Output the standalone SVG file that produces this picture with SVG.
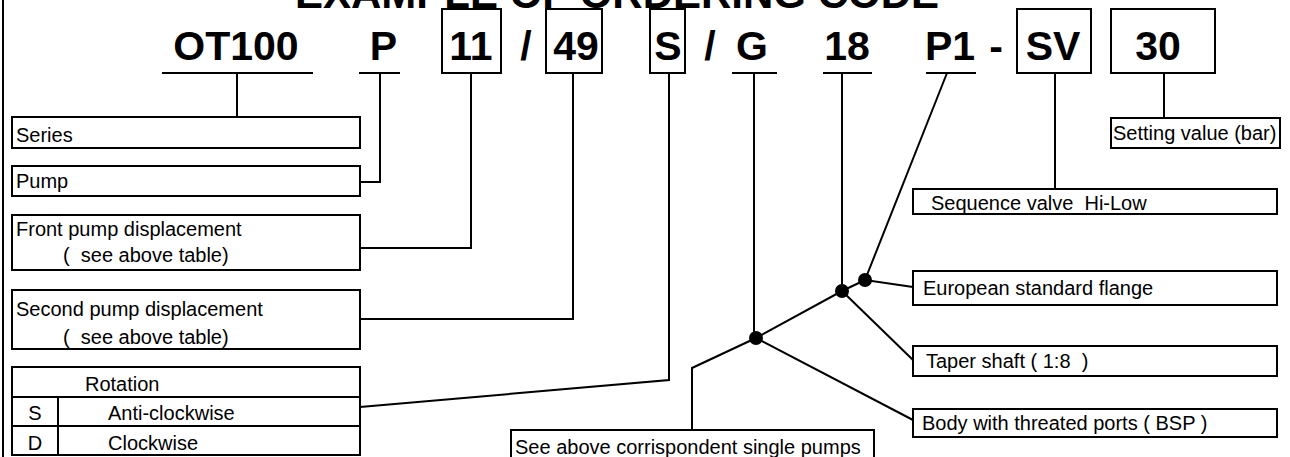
<svg xmlns="http://www.w3.org/2000/svg" width="1290" height="457" viewBox="0 0 1290 457">
<style>
.bx{fill:#fff;stroke:#000;stroke-width:2}
.ln{fill:none;stroke:#000;stroke-width:2}
.code{font-family:"Liberation Sans",Arial,sans-serif;font-weight:bold;font-size:41px;text-anchor:middle;fill:#000}
.t{font-family:"Liberation Sans",Arial,sans-serif;font-size:20px;fill:#000;white-space:pre}
.title{font-family:"Liberation Sans",Arial,sans-serif;font-weight:bold;font-size:42px;text-anchor:middle;fill:#000}
.dot{fill:#000}
</style>
<rect width="1290" height="457" fill="#fff"/>
<line x1="3" y1="0" x2="3" y2="457" class="ln"/>
<text class="title" x="617" y="8">EXAMPLE OF ORDERING CODE</text>

<g id="code">
<text class="code" x="236" y="60">OT100</text>
<text class="code" x="383.5" y="60">P</text>
<rect class="bx" x="442" y="9" width="59" height="64"/>
<text class="code" x="471" y="60">11</text>
<text class="code" x="526" y="60">/</text>
<rect class="bx" x="546" y="9" width="56" height="64"/>
<text class="code" x="576" y="60">49</text>
<rect class="bx" x="650" y="9" width="35" height="64"/>
<text class="code" x="668" y="60">S</text>
<text class="code" x="710" y="60">/</text>
<text class="code" x="752" y="60">G</text>
<text class="code" x="847" y="60">18</text>
<text class="code" x="950" y="60">P1</text>
<text class="code" x="996" y="60">-</text>
<rect class="bx" x="1017" y="9" width="74" height="64"/>
<text class="code" x="1053" y="60">SV</text>
<rect class="bx" x="1111" y="9" width="104" height="64"/>
<text class="code" x="1158" y="60">30</text>
<path class="ln" d="M162,73H313M359,73H400M732,73H777M823,73H872M926,73H976"/>
</g>

<g id="connectors" class="ln">
<path d="M237,73V117"/>
<path d="M380,73V182H360"/>
<path d="M471,73V248H360"/>
<path d="M573,73V319H360"/>
<path d="M669,73V380L360,407"/>
<path d="M754,73V338"/>
<path d="M756,338L692,368V430"/>
<path d="M756,338L913,420"/>
<path d="M756,338L842,291"/>
<path d="M842,73V291"/>
<path d="M842,291L913,360"/>
<path d="M842,291L865,280"/>
<path d="M947,73L865,280"/>
<path d="M865,280L913,287"/>
<path d="M1055,73V189"/>
<path d="M1164,73V118"/>
</g>
<g id="junctions">
<circle class="dot" cx="756" cy="338" r="7"/>
<circle class="dot" cx="842" cy="291" r="7"/>
<circle class="dot" cx="865" cy="280" r="7"/>
</g>

<g id="series"><rect class="bx" x="12" y="117" width="348" height="31"/><text class="t" x="16" y="142">Series</text></g>
<g id="pump"><rect class="bx" x="12" y="166" width="348" height="30"/><text class="t" x="16" y="188">Pump</text></g>
<g id="front"><rect class="bx" x="12" y="215" width="348" height="55"/><text class="t" x="16" y="236">Front pump displacement</text><text class="t" x="63" y="262">(  see above table)</text></g>
<g id="second"><rect class="bx" x="12" y="290" width="348" height="59"/><text class="t" x="16" y="316">Second pump displacement</text><text class="t" x="63" y="344">(  see above table)</text></g>
<g id="rotation">
<rect class="bx" x="12" y="367" width="348" height="88"/>
<path class="ln" d="M12,397H360M12,426H360M58,397V455"/>
<text class="t" x="85" y="391">Rotation</text>
<text class="t" x="35" y="420" text-anchor="middle">S</text>
<text class="t" x="108" y="420">Anti-clockwise</text>
<text class="t" x="35" y="450" text-anchor="middle">D</text>
<text class="t" x="108" y="450">Clockwise</text>
</g>
<g id="single"><rect class="bx" x="511" y="430" width="363" height="35"/><text class="t" x="515" y="454">See above corrispondent single pumps</text></g>
<g id="setting"><rect class="bx" x="1111" y="118" width="169" height="30"/><text class="t" x="1113" y="140">Setting value (bar)</text></g>
<g id="sequence"><rect class="bx" x="913" y="189" width="364" height="25"/><text class="t" x="931" y="210">Sequence valve  Hi-Low</text></g>
<g id="flange"><rect class="bx" x="913" y="271" width="364" height="34"/><text class="t" x="923" y="295">European standard flange</text></g>
<g id="taper"><rect class="bx" x="913" y="346" width="364" height="30"/><text class="t" x="926" y="368">Taper shaft ( 1:8  )</text></g>
<g id="body"><rect class="bx" x="913" y="409" width="364" height="28"/><text class="t" x="922" y="430">Body with threated ports ( BSP )</text></g>
</svg>
